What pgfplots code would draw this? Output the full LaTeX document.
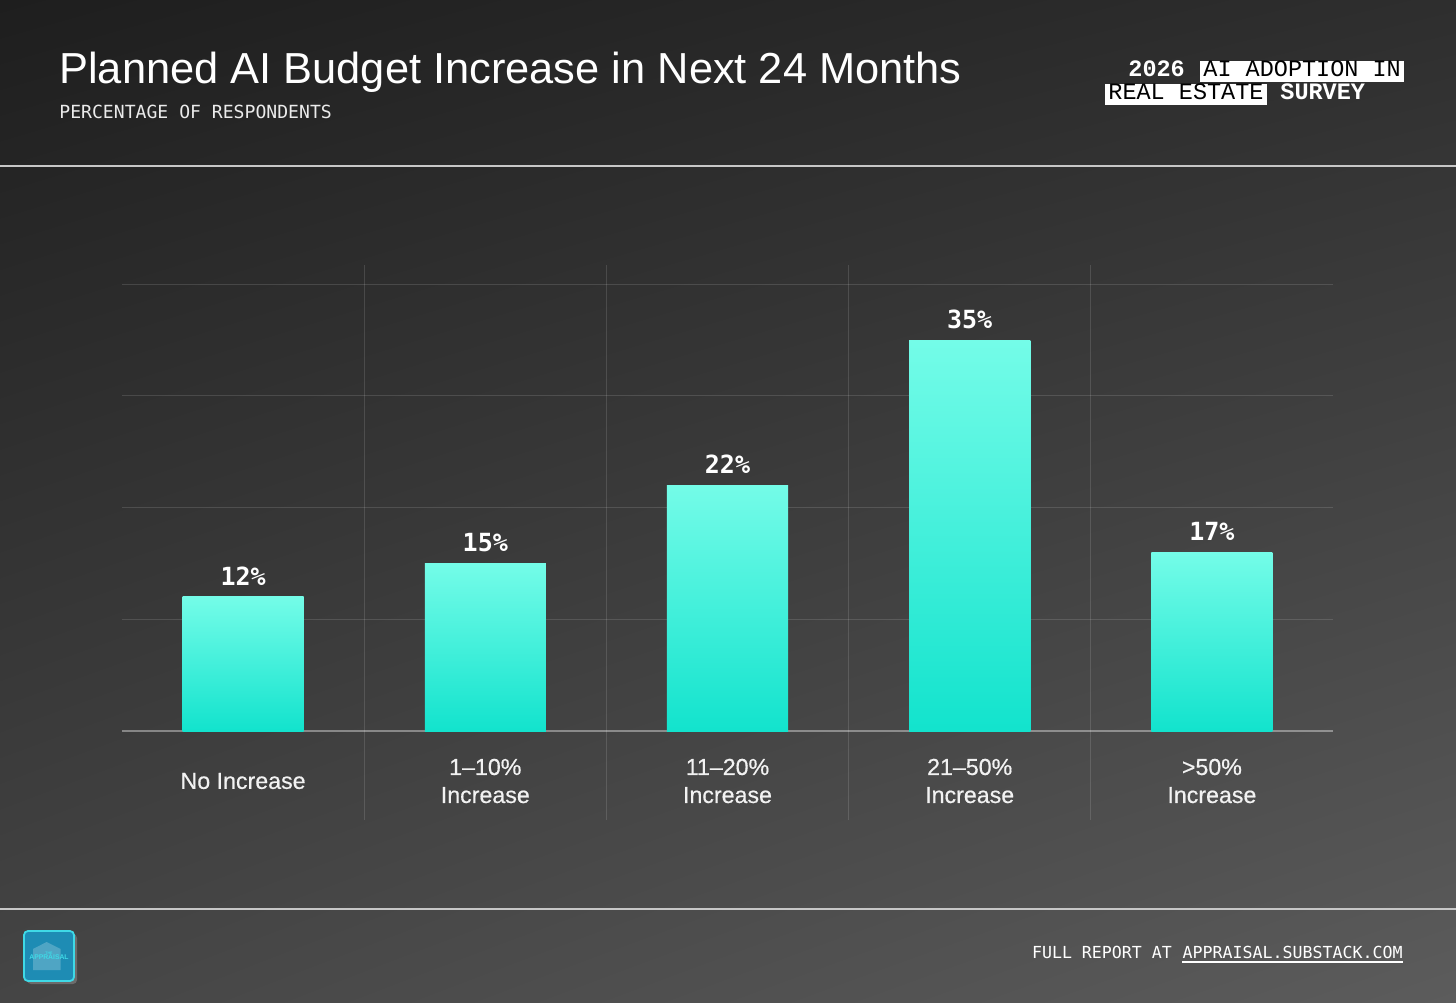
\documentclass[border=0pt]{standalone}
\usepackage{fontspec}
\setmainfont{Liberation Sans}
\newfontfamily\medfont{Liberation Sans}[FakeBold=0.5]
\newfontfamily\monofont{Liberation Mono}
\newfontfamily\valfont{DejaVu Sans Mono}
\usepackage{pgfplots}
\pgfplotsset{compat=1.18}
\usetikzlibrary{shadings}
\definecolor{barTop}{HTML}{74FCE8}
\definecolor{barBot}{HTML}{12E3CD}
\definecolor{bgUL}{HTML}{1E1E1E}
\definecolor{bgUR}{HTML}{2E2E2E}
\definecolor{bgLL}{HTML}{454545}
\definecolor{bgLR}{HTML}{5C5C5C}
\definecolor{logoFill}{HTML}{1E8CB4}
\definecolor{logoEdge}{HTML}{3FD9E6}
\pgfplotsset{roundbar/.style={bar shift=0pt, draw=none, top color=barTop, bottom color=barBot}}
\begin{document}
\begin{tikzpicture}
\useasboundingbox (0,0) rectangle (728pt,501pt);
\shade[upper left=bgUL, upper right=bgUR, lower left=bgLL, lower right=bgLR] (0,0) rectangle (728pt,501pt);
\draw[white!78!black, line width=0.8pt] (0,418pt) -- (728pt,418pt);
\draw[white!78!black, line width=0.8pt] (0,46.5pt) -- (728pt,46.5pt);
% title
\node[anchor=base west, inner sep=0pt, text=white, font=\fontsize{21.7}{26}\selectfont] at (29.5pt,459pt) {Planned AI Budget Increase in Next 24 Months};
\node[anchor=base west, inner sep=0pt, text=white!92!black, font=\valfont\fontsize{9.05}{11}\selectfont] at (29.5pt,441.5pt) {PERCENTAGE OF RESPONDENTS};
% badge
\begin{scope}[every node/.style={inner sep=0pt, anchor=base west}]
 \node[text=white, font=\monofont\bfseries\fontsize{11.75}{14}\selectfont] at (564pt,462.5pt) {2026};
 \node[fill=white, text=black, text height=7.8pt, text depth=2.3pt, inner xsep=1.5pt, font=\monofont\fontsize{11.75}{14}\selectfont] at (600pt,462.5pt) {AI ADOPTION IN};
 \node[fill=white, text=black, text height=7.8pt, text depth=2.3pt, inner xsep=1.5pt, font=\monofont\fontsize{11.75}{14}\selectfont] at (552.5pt,451pt) {REAL ESTATE};
 \node[text=white, font=\monofont\bfseries\fontsize{11.75}{14}\selectfont] at (640pt,451pt) {SURVEY};
\end{scope}
% footer
\node[anchor=base east, inner sep=0pt, text=white, font=\valfont\fontsize{8.3}{10}\selectfont] (url) at (701.5pt,22pt) {APPRAISAL.SUBSTACK.COM};
\draw[white, line width=0.9pt] ([yshift=-1.8pt]url.base west) -- ([yshift=-1.8pt]url.base east);
\node[anchor=base east, inner sep=0pt, text=white, font=\valfont\fontsize{8.3}{10}\selectfont] at ([xshift=-5pt]url.base west) {FULL REPORT AT};
% logo
\fill[white!42!black, rounded corners=2pt] (13.5pt,9pt) rectangle (38.5pt,34pt);
\fill[logoFill, rounded corners=2pt] (12pt,10.5pt) rectangle (37pt,35.5pt);
\fill[white, opacity=0.22] (16.5pt,16pt) -- (16.5pt,26.5pt) -- (23.3pt,30pt) -- (30.3pt,26.5pt) -- (30.3pt,16pt) -- cycle;
\draw[logoEdge, line width=0.9pt, rounded corners=2pt] (12pt,10.5pt) rectangle (37pt,35.5pt);
\node[text=logoEdge, font=\bfseries\fontsize{1.8}{2}\selectfont, inner sep=0pt] at (24.5pt,24.4pt) {THE};
\node[text=logoEdge, font=\bfseries\fontsize{3.4}{4}\selectfont, inner sep=0pt] at (24.5pt,22.5pt) {APPRAISAL};
% chart
\begin{axis}[
  at={(61pt,90.8pt)}, anchor=south west, scale only axis,
  width=605.5pt, height=277.6pt,
  xmin=-0.5, xmax=4.5, ymin=-8, ymax=41.7,
  ybar, bar width=0.5,
  clip=false,
  axis line style={draw=none},
  major tick length=0pt, minor tick length=0pt,
  xtick={0,1,2,3,4},
  xticklabels={No Increase,{1–10\%\\Increase},{11–20\%\\Increase},{21–50\%\\Increase},{>50\%\\Increase}},
  x tick label style={align=center, anchor=center, yshift=19.7pt, text=white!95!black, font=\medfont\fontsize{11.6}{14}\selectfont},
  minor xtick={0.5,1.5,2.5,3.5},
  xminorgrids, xmajorgrids=false,
  minor grid style={white, opacity=0.13, line width=0.6pt},
  ytick={10,20,30,40}, yticklabels={}, ymajorgrids,
  major grid style={white, opacity=0.13, line width=0.6pt},
  extra y ticks={0}, extra y tick labels={},
  extra y tick style={grid=major, major grid style={white, opacity=0.38, line width=0.7pt}},
  point meta=explicit symbolic,
  nodes near coords={\pgfplotspointmeta\%},
  every node near coord/.append style={anchor=south, inner sep=0pt, yshift=5.5pt, text=white, font=\valfont\bfseries\fontsize{12.5}{14}\selectfont},
]
\addplot[roundbar] coordinates {(0,12) [12]};
\addplot[roundbar] coordinates {(1,15) [15]};
\addplot[roundbar] coordinates {(2,22) [22]};
\addplot[roundbar] coordinates {(3,35) [35]};
\addplot[roundbar] coordinates {(4,16) [17]};
\end{axis}
\end{tikzpicture}
\end{document}
